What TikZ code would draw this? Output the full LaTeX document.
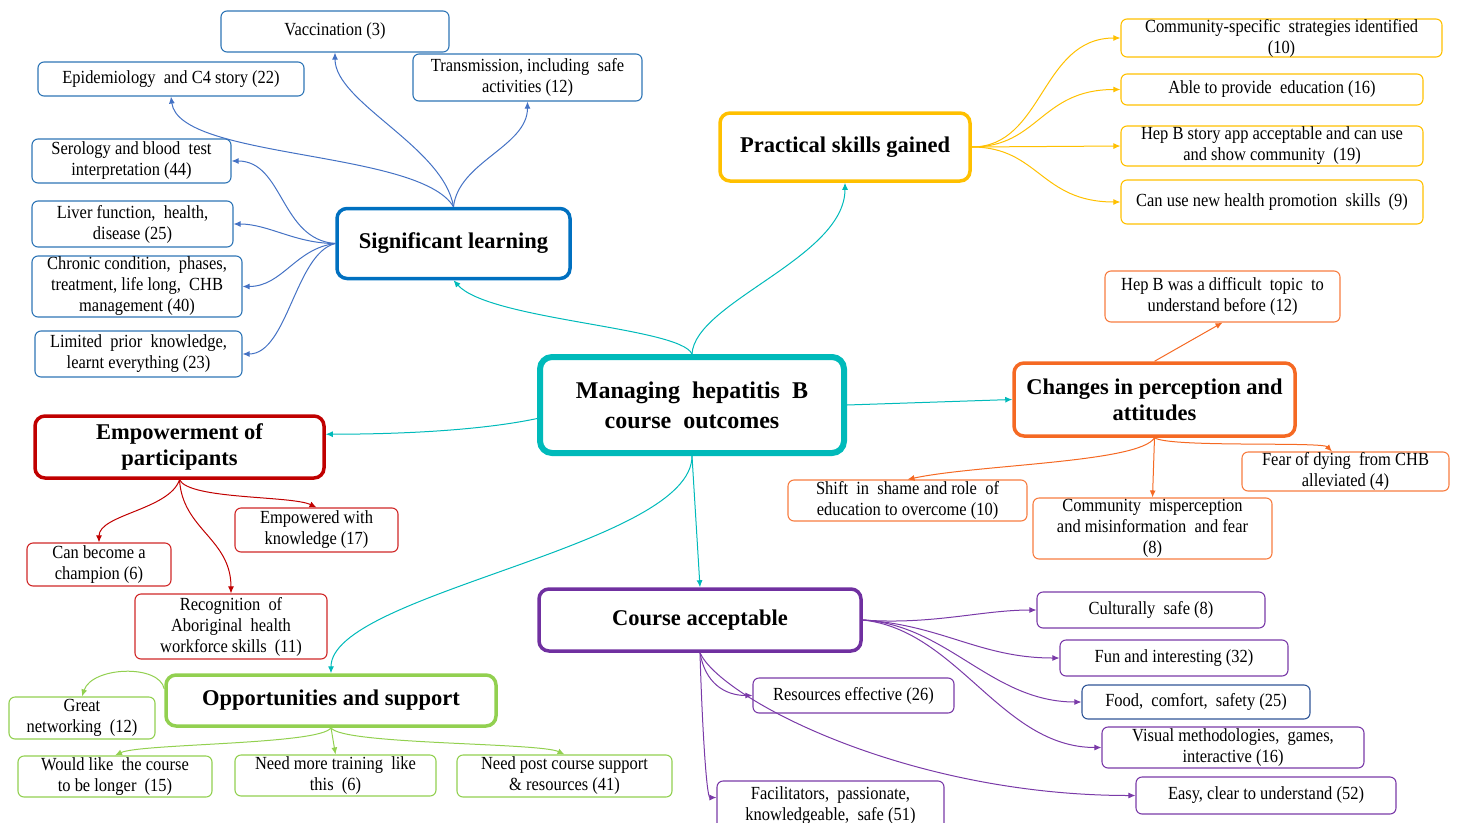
\documentclass[tikz,border=0pt]{standalone}
\usepackage{fontspec}
\setmainfont{Liberation Serif}
\newfontfamily\itemfont{Liberation Serif}[FakeStretch=0.89]
\usetikzlibrary{arrows.meta}

\definecolor{hubc}{RGB}{0,186,186}
\definecolor{learnc}{RGB}{0,112,192}
\definecolor{learnb}{RGB}{46,117,182}
\definecolor{learnl}{RGB}{68,114,196}
\definecolor{skillc}{RGB}{255,192,0}
\definecolor{changec}{RGB}{245,105,35}
\definecolor{changel}{RGB}{247,125,65}
\definecolor{empc}{RGB}{192,0,0}
\definecolor{empl}{RGB}{208,40,40}
\definecolor{accc}{RGB}{112,48,160}
\definecolor{accl}{RGB}{122,58,168}
\definecolor{oppc}{RGB}{146,208,80}
\definecolor{foodc}{RGB}{47,85,151}

\begin{document}
\begin{tikzpicture}[x=1pt, y=-1pt,
	hub/.style = { draw=hubc, line width=6pt, rounded corners=12pt,
			align=center, inner sep=0pt,
			font=\bfseries\fontsize{24}{30}\selectfont },
	topic/.style = { draw=#1, line width=3.5pt, rounded corners=10pt,
			align=center, inner sep=0pt,
			font=\bfseries\fontsize{22.5}{26}\selectfont },
	item/.style = { draw=#1, line width=1.1pt, rounded corners=6pt,
			align=center, inner sep=0pt,
			font=\itemfont\fontsize{18.5}{21}\selectfont },
	wh/.style 2 args = { minimum width=#1pt, minimum height=#2pt },
	link/.style = { draw=#1, line width=1pt, -{Latex[length=7pt,width=6pt]} }]

  \useasboundingbox (0,0) rectangle (1458,822);

  % centre and the six themes
  \node[name=hub, hub, wh={304}{96}] at (692,405)
	{Managing\ \ hepatitis\ \ B\\course\ \ outcomes};
  \node[name=sl, topic=learnc, wh={233}{70}] at (453.5,243.5) {Significant learning};
  \node[name=ps, topic=skillc, wh={250}{68}] at (845,147) {Practical skills gained};
  \node[name=ch, topic=changec, wh={281}{73}] at (1154.5,399.5)
	{Changes in perception and\\attitudes};
  \node[name=emp, topic=empc, wh={289}{62}] at (179.5,447) {Empowerment of\\participants};
  \node[name=ca, topic=accc, wh={322}{62}] at (700,620) {Course acceptable};
  \node[name=opp, topic=oppc, wh={330}{51}] at (331,700.5) {Opportunities and support};

  \draw[link=hubc] (hub.north) .. controls +(-12,-27) and +(36,40) .. (sl.south);
  \draw[link=hubc] (hub.north) .. controls +(3,-52) and +(0,75) .. (ps.south);
  \draw[link=hubc] (hub.east) -- (ch.west);
  \draw[link=hubc] (hub.185) .. controls +(-57,12) and +(74,0) .. (emp.5);
  \draw[link=hubc] (hub.south) -- (ca.north);
  \draw[link=hubc] (hub.south) .. controls +(0,90) and +(0,-80) .. (opp.north);

  % significant learning
  \node[name=vac, item=learnb, wh={228}{41}] at (335,31.5) {Vaccination (3)};
  \node[name=epi, item=learnb, wh={266}{34}] at (171,79) {Epidemiology\ \ and C4 story (22)};
  \node[name=tra, item=learnb, wh={229}{47}] at (527.5,77.5)
	{Transmission, including\ \ safe\\activities (12)};
  \node[name=ser, item=learnb, wh={199}{44}] at (131.5,161)
	{Serology and blood\ \ test\\interpretation (44)};
  \node[name=liv, item=learnb, wh={201}{46}] at (132.5,224)
	{Liver function,\ \ health,\\disease (25)};
  \node[name=chr, item=learnb, wh={210}{61}] at (137,286.5)
	{Chronic condition,\ \ phases,\\treatment, life long,\ \ CHB\\management (40)};
  \node[name=lim, item=learnb, wh={207}{46}] at (138.5,354)
	{Limited\ \ prior\ \ knowledge,\\learnt everything (23)};

  \draw[link=learnl] (sl.north) .. controls +(-10,-60) and +(0,50) .. (vac.south);
  \draw[link=learnl] (sl.north) .. controls +(-34,-57) and +(8,63) .. (epi.south);
  \draw[link=learnl] (sl.north) .. controls +(5,-45) and +(0,45) .. (tra.south);
  \draw[link=learnl] (sl.west) .. controls +(-55,-4) and +(52,0) .. (ser.east);
  \draw[link=learnl] (sl.west) .. controls +(-40,0) and +(35,0) .. (liv.east);
  \draw[link=learnl] (sl.west) .. controls +(-40,5) and +(40,0) .. (chr.east);
  \draw[link=learnl] (sl.west) .. controls +(-40,10) and +(45,0) .. (lim.east);

  % practical skills
  \node[name=csi, item=skillc, wh={321}{38}] at (1281.5,38)
	{Community-specific\ \ strategies identified\\(10)};
  \node[name=edu, item=skillc, wh={302}{31}] at (1272,89.5) {Able to provide\ \ education (16)};
  \node[name=app, item=skillc, wh={302}{40}] at (1272,146)
	{Hep B story app acceptable and can use\\and show community\ \ (19)};
  \node[name=hps, item=skillc, wh={302}{44}] at (1272,202)
	{Can use new health promotion\ \ skills\ \ (9)};

  \draw[link=skillc] (ps.east) .. controls +(72,0) and +(-80,0) .. (csi.west);
  \draw[link=skillc] (ps.east) .. controls +(67,0) and +(-80,0) .. (edu.west);
  \draw[link=skillc] (ps.east) -- (app.west);
  \draw[link=skillc] (ps.east) .. controls +(67,0) and +(-80,0) .. (hps.west);

  % changes in perception
  \node[name=hd, item=changel, wh={235}{51}] at (1222.5,296.5)
	{Hep B was a difficult\ \ topic\ \ to\\understand before (12)};
  \node[name=fear, item=changel, wh={207}{39}] at (1345.5,471.5)
	{Fear of dying\ \ from CHB\\alleviated (4)};
  \node[name=shift, item=changel, wh={239}{41}] at (907.5,500.5)
	{Shift\ \ in\ \ shame and role\ \ of\\education to overcome (10)};
  \node[name=cm, item=changel, wh={239}{61}] at (1152.5,528.5)
	{Community\ \ misperception\\and misinformation\ \ and fear\\(8)};

  \draw[link=changec] (ch.north) -- (hd.south);
  \draw[link=changec] (ch.south) .. controls +(-15,25) and +(70,-15) .. (shift.north);
  \draw[link=changec] (ch.south) -- (cm.north);
  \draw[link=changec] (ch.south) .. controls +(15,10) and +(-10,-10) .. (fear.124);

  % empowerment
  \node[name=emk, item=empl, wh={163}{44}] at (316.5,530) {Empowered with\\knowledge (17)};
  \node[name=chmp, item=empl, wh={144}{43}] at (99,564.5) {Can become a\\champion (6)};
  \node[name=rec, item=empl, wh={192}{65}] at (231,626.5)
	{Recognition\ \ of\\Aboriginal\ \ health\\workforce skills\ \ (11)};

  \draw[link=empc] (emp.south) .. controls +(-10,30) and +(0,-28) .. (chmp.north);
  \draw[link=empc] (emp.south) .. controls +(3,50) and +(0,-55) .. (rec.north);
  \draw[link=empc] (emp.south) .. controls +(10,20) and +(-25,-12) .. (emk.north);

  % opportunities and support
  \node[name=gn, item=oppc, wh={146}{42}] at (82,718) {Great\\networking\ \ (12)};
  \node[name=wl, item=oppc, wh={194}{41}] at (115,776.5)
	{Would like\ \ the course\\to be longer\ \ (15)};
  \node[name=nm, item=oppc, wh={201}{41}] at (335.5,775.5)
	{Need more training\ \ like\\this\ \ (6)};
  \node[name=np, item=oppc, wh={215}{42}] at (564.5,776)
	{Need post course support\\\& resources (41)};

  \draw[link=oppc] (opp.176) .. controls +(-5,-25) and +(10,-30) .. (gn.north);
  \draw[link=oppc] (opp.south) .. controls +(-10,17) and +(25,-12) .. (wl.north);
  \draw[link=oppc] (opp.south) -- (nm.north);
  \draw[link=oppc] (opp.south) .. controls +(10,17) and +(-25,-12) .. (np.north);

  % course acceptable
  \node[name=cs, item=accl, wh={228}{36}] at (1151,610) {Culturally\ \ safe (8)};
  \node[name=fun, item=accl, wh={228}{36}] at (1174,658) {Fun and interesting (32)};
  \node[name=food, item=foodc, wh={228}{34}] at (1196,702) {Food,\ \ comfort,\ \ safety (25)};
  \node[name=vis, item=accl, wh={262}{41}] at (1233,747.5)
	{Visual methodologies,\ \ games,\\interactive (16)};
  \node[name=easy, item=accl, wh={260}{37}] at (1266,795.5) {Easy, clear to understand (52)};
  \node[name=res, item=accl, wh={201}{35}] at (853.5,695.5) {Resources effective (26)};
  \node[name=fac, item=accl, wh={227}{49}] at (830.5,805.5)
	{Facilitators,\ \ passionate,\\knowledgeable,\ \ safe (51)};

  \draw[link=accl] (ca.east) .. controls +(70,5) and +(-55,0) .. (cs.west);
  \draw[link=accl] (ca.east) .. controls +(80,5) and +(-80,0) .. (fun.west);
  \draw[link=accl] (ca.east) .. controls +(85,5) and +(-90,0) .. (food.west);
  \draw[link=accl] (ca.east) .. controls +(95,10) and +(-100,0) .. (vis.west);
  \draw[link=accl] (ca.south) .. controls +(20,45) and +(-230,0) .. (easy.west);
  \draw[link=accl] (ca.south) .. controls +(5,30) and +(-28,0) .. (res.west);
  \draw[link=accl] (ca.south) .. controls +(2,70) and +(-10,0) .. (fac.176);
\end{tikzpicture}
\end{document}
